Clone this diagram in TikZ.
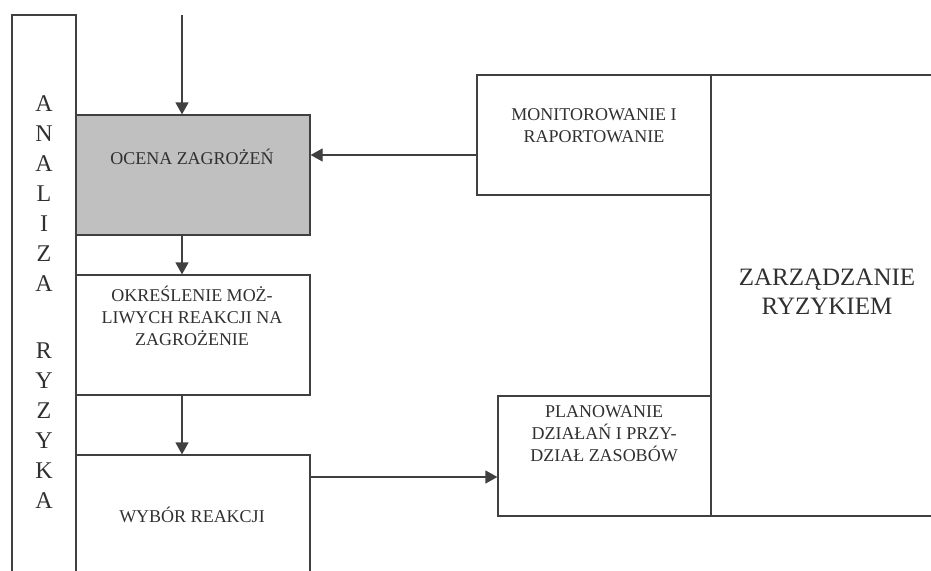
\documentclass[tikz,border=0pt]{standalone}
\usepackage{fontspec}
\setmainfont{Liberation Serif}
\usetikzlibrary{arrows.meta}
\definecolor{linegray}{HTML}{404040}
\definecolor{boxgray}{HTML}{C0C0C0}
\definecolor{textgray}{HTML}{303030}

\tikzset{every picture/.style={line width=1.2pt}}
\tikzset{
  blok/.style={draw=linegray, inner sep=0pt, minimum width=234pt, minimum height=120pt},
  opis/.style={text=textgray, align=center, inner sep=0pt, font=\fontsize{18}{22}\selectfont},
  strzalka/.style={draw=linegray, -{Triangle[length=12pt,width=13pt]}}
}

\begin{document}
\begin{tikzpicture}[x=1pt,y=-1pt]
\useasboundingbox (0,0) rectangle (931,570);
\clip (0,0) rectangle (931,570);
% bloki
\node [blok, minimum width=64pt, minimum height=585pt] (analiza) at (44,307.5) {};
\node [blok, fill=boxgray] (ocena) at (193,175) {};
\node [blok] (okreslenie) at (193,335) {};
\node [blok] (wybor) at (193,515) {};
\node [blok] (monitor) at (594,135) {};
\node [blok, minimum width=213pt] (plan) at (604.5,456) {};
\node [blok, minimum width=232pt, minimum height=441pt] (zarzadzanie) at (827,295.5) {};
% napisy
\node [opis, font=\fontsize{24}{30}\selectfont, anchor=north] (t-analiza) at (44,95)
  {A\\N\\A\\L\\I\\Z\\A\\[37pt]R\\Y\\Z\\Y\\K\\A};
\node [opis] (t-ocena) at (192,157) {OCENA ZAGROŻEŃ};
\node [opis] (t-okreslenie) at (192,316) {OKREŚLENIE MOŻ-\\LIWYCH REAKCJI NA\\ZAGROŻENIE};
\node [opis] (t-wybor) at (192,515) {WYBÓR REAKCJI};
\node [opis] (t-monitor) at (594,126) {MONITOROWANIE I\\RAPORTOWANIE};
\node [opis] (t-plan) at (604,434) {PLANOWANIE\\DZIAŁAŃ I PRZY-\\DZIAŁ ZASOBÓW};
\node [opis, font=\fontsize{25}{29}\selectfont] (t-zarzadzanie) at (827,292) {ZARZĄDZANIE\\RYZYKIEM};
% strzalki
\coordinate (wejscie) at (182,15);
\draw [strzalka] (wejscie) -- (wejscie |- ocena.north);
\draw [strzalka] (wejscie |- ocena.south) -- (wejscie |- okreslenie.north);
\draw [strzalka] (wejscie |- okreslenie.south) -- (wejscie |- wybor.north);
\coordinate (raport) at ([yshift=-20pt]monitor.west);
\draw [strzalka] (raport) -- (raport -| ocena.east);
\coordinate (decyzja) at ([yshift=38pt]wybor.east);
\draw [strzalka] (decyzja) -- (decyzja -| plan.west);
\end{tikzpicture}
\end{document}
